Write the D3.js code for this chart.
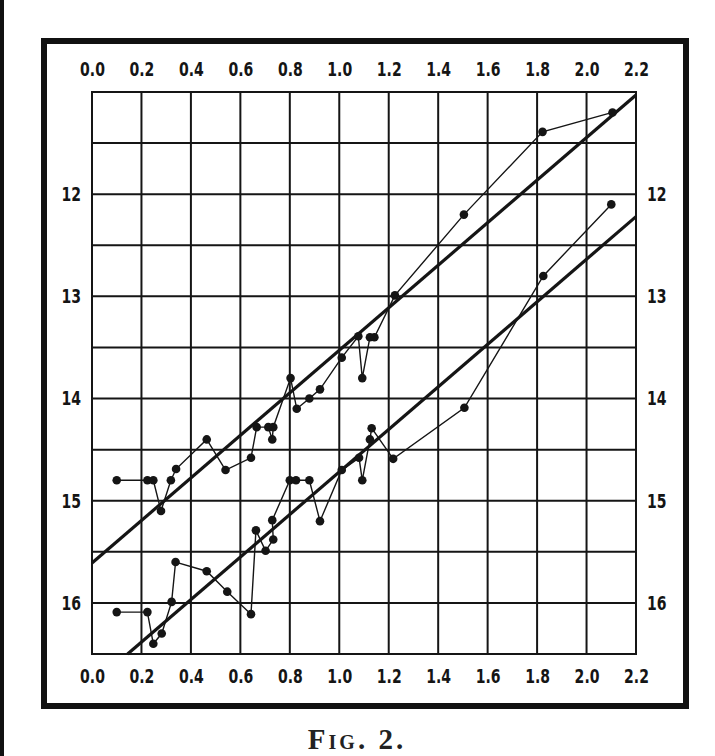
<!DOCTYPE html>
<html>
<head>
<meta charset="utf-8">
<script src="https://cdn.jsdelivr.net/npm/d3@7/dist/d3.min.js"></script>
<style>
  html, body { margin: 0; padding: 0; background: #fff; }
  svg { display: block; }
  .tick text { font-family: "DejaVu Sans Condensed", "DejaVu Sans", sans-serif; font-stretch: condensed; }
</style>
</head>
<body>
<svg id="chart" width="715" height="756"></svg>
<script>
// ---- data ----
const xTickLabels = ["0.0","0.2","0.4","0.6","0.8","1.0","1.2","1.4","1.6","1.8","2.0","2.2"];
const xTickValues = [0,0.2,0.4,0.6,0.8,1.0,1.2,1.4,1.6,1.8,2.0,2.2];
const yTickValues = [12,13,14,15,16];
const yGridValues = [11,11.5,12,12.5,13,13.5,14,14.5,15,15.5,16,16.5];

const upperX = [0.10,0.224,0.248,0.279,0.319,0.34,0.464,0.54,0.643,0.666,0.713,0.729,0.733,0.803,0.828,0.879,0.922,1.01,1.077,1.093,1.124,1.142,1.225,1.504,1.822,2.105];
const upperY = [14.80,14.80,14.80,15.10,14.80,14.69,14.40,14.70,14.58,14.28,14.28,14.40,14.28,13.80,14.10,14.00,13.91,13.60,13.39,13.80,13.40,13.40,12.99,12.20,11.39,11.20];

const lowerX = [0.10,0.224,0.248,0.282,0.322,0.338,0.464,0.547,0.643,0.663,0.702,0.733,0.729,0.80,0.825,0.879,0.922,1.01,1.08,1.093,1.124,1.131,1.218,1.506,1.825,2.10];
const lowerY = [16.09,16.09,16.40,16.30,15.99,15.60,15.69,15.89,16.11,15.29,15.49,15.38,15.19,14.80,14.80,14.80,15.20,14.70,14.58,14.80,14.40,14.29,14.59,14.09,12.80,12.10];

const fitUpperX = [0, 2.2];
const fitUpperY = [15.61, 11.03];
const fitLowerX = [0.144, 2.2];
const fitLowerY = [16.50, 12.22];

const caption = "Fig. 2.";

// ---- drawing ----
const svg = d3.select("#chart");
const x = d3.scaleLinear().domain([0, 2.2]).range([92, 636]);
const y = d3.scaleLinear().domain([11, 16.5]).range([92, 654]);

// scan edge bar on the left
svg.append("rect").attr("x", 0).attr("y", 0).attr("width", 4).attr("height", 756).attr("fill", "#111");

// outer thick frame
svg.append("rect")
  .attr("x", 44).attr("y", 41).attr("width", 642).attr("height", 665)
  .attr("fill", "none").attr("stroke", "#111").attr("stroke-width", 6);

const ink = "#151515";
const g = svg.append("g");

// grid
g.selectAll("line.vg").data(xTickValues).join("line")
  .attr("x1", d => x(d)).attr("x2", d => x(d))
  .attr("y1", y(11)).attr("y2", y(16.5))
  .attr("stroke", ink).attr("stroke-width", 2);
g.selectAll("line.hg").data(yGridValues).join("line")
  .attr("y1", d => y(d)).attr("y2", d => y(d))
  .attr("x1", x(0) - 1).attr("x2", x(2.2) + 1)
  .attr("stroke", ink).attr("stroke-width", 2);

// axes labels
function styleAxis(sel) {
  sel.select(".domain").remove();
  sel.selectAll(".tick line").remove();
  sel.selectAll(".tick text")
    .attr("fill", ink)
    .attr("font-size", 20)
    .attr("font-weight", "bold")
    .attr("transform", "scale(0.78,1)");
}
const fmtX = (d, i) => xTickLabels[i];
svg.append("g").attr("transform", `translate(0,${y(11) - 16})`)
  .call(d3.axisTop(x).tickValues(xTickValues).tickFormat(fmtX).tickSize(0).tickPadding(0))
  .call(styleAxis);
svg.append("g").attr("transform", `translate(0,${y(16.5) + 15})`)
  .call(d3.axisBottom(x).tickValues(xTickValues).tickFormat(fmtX).tickSize(0).tickPadding(0))
  .call(styleAxis)
  .selectAll(".tick text").attr("dy", "0.71em");
svg.append("g").attr("transform", `translate(${x(0) - 11},0)`)
  .call(d3.axisLeft(y).tickValues(yTickValues).tickFormat(d3.format("d")).tickSize(0).tickPadding(0))
  .call(styleAxis);
svg.append("g").attr("transform", `translate(${x(2.2) + 11},0)`)
  .call(d3.axisRight(y).tickValues(yTickValues).tickFormat(d3.format("d")).tickSize(0).tickPadding(0))
  .call(styleAxis);

// fitted thick lines
const line = d3.line().x(d => x(d[0])).y(d => y(d[1]));
[[fitUpperX, fitUpperY], [fitLowerX, fitLowerY]].forEach(([xs, ys]) => {
  g.append("path").datum(xs.map((v, i) => [v, ys[i]]))
    .attr("d", line).attr("fill", "none")
    .attr("stroke", ink).attr("stroke-width", 3.2);
});

// observed series
[[upperX, upperY], [lowerX, lowerY]].forEach(([xs, ys]) => {
  const pts = xs.map((v, i) => [v, ys[i]]);
  g.append("path").datum(pts).attr("d", line)
    .attr("fill", "none").attr("stroke", ink).attr("stroke-width", 1.4);
  g.selectAll(null).data(pts).join("circle")
    .attr("cx", d => x(d[0])).attr("cy", d => y(d[1])).attr("r", 4.3)
    .attr("fill", ink);
});

// caption
svg.append("text")
  .attr("x", 357).attr("y", 749)
  .attr("text-anchor", "middle")
  .attr("font-family", "'Liberation Serif', 'DejaVu Serif', serif")
  .attr("font-size", 29)
  .attr("font-weight", "bold")
  .attr("letter-spacing", 3)
  .style("font-variant", "small-caps")
  .attr("fill", "#222")
  .text(caption);
</script>
</body>
</html>
